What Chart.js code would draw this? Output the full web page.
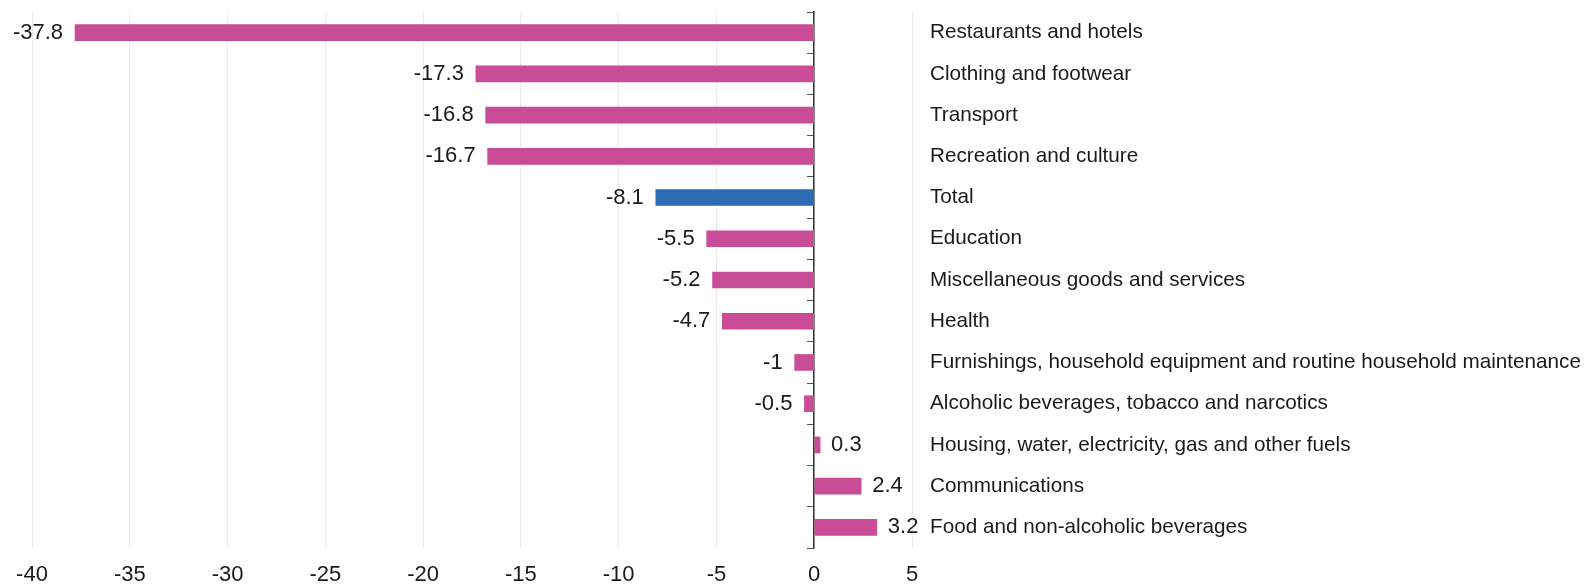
<!DOCTYPE html>
<html>
<head>
<meta charset="utf-8">
<script src="https://cdn.jsdelivr.net/npm/chart.js@4/dist/chart.umd.min.js"></script>
<style>
  html, body { margin: 0; padding: 0; background: #ffffff; }
  #wrap { width: 1584px; height: 585px; position: relative; }
</style>
</head>
<body>
<div id="wrap"><canvas id="chart-change"></canvas></div>
<script>
// Change by category, per cent
const categories = [
  'Restaurants and hotels',
  'Clothing and footwear',
  'Transport',
  'Recreation and culture',
  'Total',
  'Education',
  'Miscellaneous goods and services',
  'Health',
  'Furnishings, household equipment and routine household maintenance',
  'Alcoholic beverages, tobacco and narcotics',
  'Housing, water, electricity, gas and other fuels',
  'Communications',
  'Food and non-alcoholic beverages',
];
const changes = [-37.8, -17.3, -16.8, -16.7, -8.1, -5.5, -5.2, -4.7, -1, -0.5, 0.3, 2.4, 3.2];
const highlighted = ['Total'];

const PINK = '#C84C96';
const BLUE = '#2B6CB3';
const FONT = '"Liberation Sans", Arial, sans-serif';
const CAT_SIZE = 20.7;
const LABEL_PAD = 18;

// value labels next to the bar ends
const barLabels = {
  id: 'barLabels',
  afterDatasetsDraw(chart) {
    const ctx = chart.ctx;
    const meta = chart.getDatasetMeta(0);
    ctx.save();
    ctx.font = '22px ' + FONT;
    ctx.fillStyle = '#1a1a1a';
    ctx.textBaseline = 'middle';
    meta.data.forEach((bar, i) => {
      const v = changes[i];
      if (v < 0) {
        ctx.textAlign = 'right';
        ctx.fillText(String(v), bar.x - 12, bar.y);
      } else {
        ctx.textAlign = 'left';
        ctx.fillText(String(v), bar.x + 11, bar.y);
      }
    });
    ctx.restore();
  },
};

new Chart(document.getElementById('chart-change'), {
  type: 'bar',
  data: {
    labels: categories,
    datasets: [{
      data: changes,
      backgroundColor: categories.map(c => highlighted.includes(c) ? BLUE : PINK),
      barThickness: 16,
    }],
  },
  plugins: [barLabels],
  options: {
    responsive: true,
    maintainAspectRatio: false,
    animation: false,
    indexAxis: 'y',
    layout: { padding: { left: 32, top: 12, right: 3, bottom: 0 } },
    plugins: {
      legend: { display: false },
      tooltip: { enabled: false },
    },
    scales: {
      x: {
        min: -40,
        max: 5,
        ticks: {
          stepSize: 5,
          color: '#1a1a1a',
          padding: 14,
          font: { family: FONT, size: 22 },
        },
        grid: {
          color: '#d4d4d4',
          lineWidth: 1,
          drawTicks: false,
        },
        border: { display: false, dash: [1, 1] },
        afterFit(scale) {
          scale.height = 37;
        },
      },
      y: {
        position: 'right',
        ticks: {
          color: '#1a1a1a',
          padding: LABEL_PAD,
          font: { family: FONT, size: CAT_SIZE },
        },
        grid: { display: false, drawTicks: false },
        border: { display: false },
        // make room for the full category names
        afterFit(scale) {
          const ctx = scale.ctx;
          ctx.save();
          ctx.font = CAT_SIZE + 'px ' + FONT;
          const widest = Math.max(...categories.map(c => ctx.measureText(c).width));
          ctx.restore();
          scale.width = Math.ceil(widest) + LABEL_PAD;
          scale.paddingTop = 0;
          scale.paddingBottom = 0;
        },
      },
      // zero line with category tick marks
      y2: {
        type: 'category',
        labels: categories,
        position: { x: 0 },
        offset: true,
        ticks: { display: false },
        grid: {
          offset: true,
          drawOnChartArea: false,
          drawTicks: true,
          tickLength: 6,
          color: '#555555',
          lineWidth: 1,
        },
        border: { display: true, color: '#333333', width: 1.5 },
      },
    },
  },
});
</script>
</body>
</html>
